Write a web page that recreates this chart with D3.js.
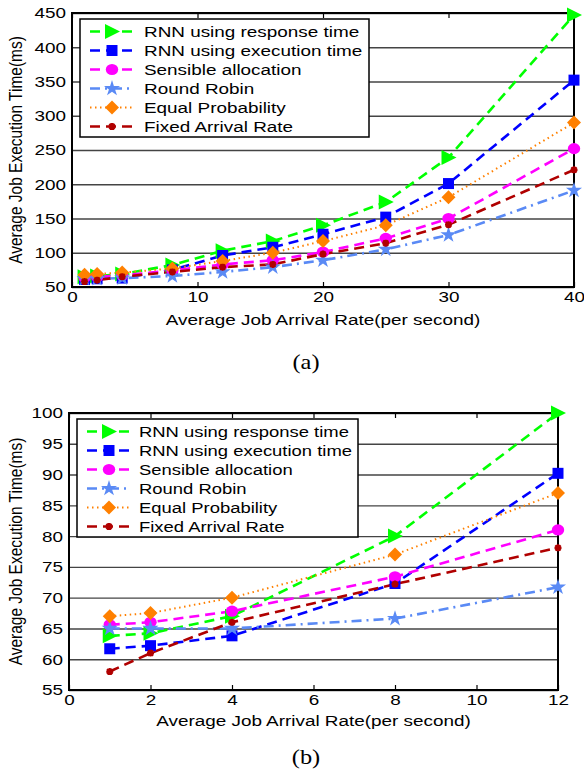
<!DOCTYPE html>
<html>
<head>
<meta charset="utf-8">
<script src="https://cdn.jsdelivr.net/npm/d3@7"></script>
<style>
  body { margin: 0; background: #fff; }
  svg { display: block; }
  text { font-family: "Liberation Sans", Arial, Helvetica, sans-serif; fill: #000; }
</style>
</head>
<body>
<div id="chart"></div>
<script>
// series labels, same order in both panels
const seriesNames = [
  "RNN using response time",
  "RNN using execution time",
  "Sensible allocation",
  "Round Robin",
  "Equal Probability",
  "Fixed Arrival Rate"
];

// panel (a)
const rateA = [1, 2, 4, 8, 12, 16, 20, 25, 30, 40];
const responseA = [65, 66, 69, 82, 103, 117, 140, 174, 239, 447];
const executionA = [61, 62, 63, 75, 96, 108, 127, 152, 201, 352];
const sensibleA = [64, 65, 67, 74, 83, 89, 101, 121, 150, 252];
const roundRobinA = [62, 62, 63, 66, 72, 79, 89, 105, 126, 191];
const equalProbA = [68, 69, 71, 77, 88, 100, 117, 140, 181, 290];
const fixedRateA = [58, 60, 65, 72, 79, 83, 98, 114, 141, 221];
const xTicksA = [0, 10, 20, 30, 40];
const yTicksA = [50, 100, 150, 200, 250, 300, 350, 400, 450];

// panel (b)
const rateB = [1, 2, 4, 8, 12];
const responseB = [63.8, 64.2, 67, 80, 100];
const executionB = [61.7, 62.2, 63.8, 72.3, 90.2];
const sensibleB = [65.6, 66, 67.8, 73.4, 81];
const roundRobinB = [65, 65, 65, 66.6, 71.7];
const equalProbB = [67, 67.5, 70, 77, 87];
const fixedRateB = [58, 61, 66, 72.2, 78.1];
const xTicksB = [0, 2, 4, 6, 8, 10, 12];
const yTicksB = [55, 60, 65, 70, 75, 80, 85, 90, 95, 100];

const xLabel = "Average Job Arrival Rate(per second)";
const yLabel = "Average Job Execution Time(ms)";

// the original figure is stretched sideways, so is the text
const STRETCH = 1.22;

const styles = [
  { color: "#00ff00", dash: "10,6", marker: "triangle" },
  { color: "#0000ff", dash: "10,6", marker: "square" },
  { color: "#ff00ff", dash: "10,6", marker: "circle" },
  { color: "#5a8af5", dash: "10,5,2,5", marker: "star" },
  { color: "#ff8000", dash: "1.5,3.5", marker: "diamond", width: 2 },
  { color: "#b00000", dash: "10,6", marker: "asterisk" }
];

const svg = d3.select("#chart").append("svg").attr("width", 584).attr("height", 770);

function addMarker(g, type, color) {
  if (type === "triangle") {
    g.append("path").attr("d", "M-7,-7.5L8,0L-7,7.5Z").attr("fill", color);
  } else if (type === "square") {
    g.append("path").attr("d", "M-5.5,-5.5h11v11h-11Z").attr("fill", color);
  } else if (type === "circle") {
    g.append("ellipse").attr("rx", 6.2).attr("ry", 5.6).attr("fill", color);
  } else if (type === "diamond") {
    g.append("path").attr("d", "M0,-7L7,0L0,7L-7,0Z").attr("fill", color);
  } else if (type === "star") {
    g.append("path").attr("d", d3.symbol(d3.symbolStar, 80)()).attr("fill", color);
  } else if (type === "asterisk") {
    g.append("path")
      .attr("d", "M-3.5,0H3.5M0,-3.5V3.5M-2.6,-2.6L2.6,2.6M-2.6,2.6L2.6,-2.6")
      .attr("stroke", color).attr("stroke-width", 2.2);
  }
}

function drawPanel(p) {
  const x = d3.scaleLinear().domain(p.xDomain).range([p.left, p.right]);
  const y = d3.scaleLinear().domain(p.yDomain).range([p.bottom, p.top]);
  const w = p.right - p.left;
  const h = p.bottom - p.top;

  // grid + y labels
  const yAxis = svg.append("g")
    .attr("transform", `translate(${p.left},0)`)
    .call(d3.axisLeft(y).tickValues(p.yTicks).tickSize(-w).tickPadding(5).tickFormat(d3.format("d")));
  yAxis.select(".domain").remove();
  yAxis.selectAll("line").attr("stroke", "#444").attr("stroke-width", 1.4);
  yAxis.selectAll("text").attr("font-size", 15.5).attr("transform", `scale(${STRETCH},1)`);

  const xAxis = svg.append("g")
    .attr("transform", `translate(0,${p.bottom})`)
    .call(d3.axisBottom(x).tickValues(p.xTicks).tickSizeInner(-5).tickSizeOuter(0).tickPadding(4));
  xAxis.select(".domain").remove();
  xAxis.selectAll("line").attr("stroke", "#000").attr("stroke-width", 1.2);
  xAxis.selectAll("text").attr("font-size", 15.5).attr("transform", `scale(${STRETCH},1)`);

  const xTop = svg.append("g")
    .attr("transform", `translate(0,${p.top})`)
    .call(d3.axisTop(x).tickValues(p.xTicks).tickSizeInner(-5).tickSizeOuter(0).tickFormat(""));
  xTop.select(".domain").remove();
  xTop.selectAll("line").attr("stroke", "#000").attr("stroke-width", 1.2);

  svg.append("rect")
    .attr("x", p.left).attr("y", p.top).attr("width", w).attr("height", h)
    .attr("fill", "none").attr("stroke", "#000").attr("stroke-width", 2);

  const line = d3.line().x(d => x(d[0])).y(d => y(d[1]));

  p.series.forEach((vals, i) => {
    const s = styles[i];
    const pts = p.rates.map((r, j) => [r, vals[j]]);
    svg.append("path")
      .attr("d", line(pts))
      .attr("fill", "none")
      .attr("stroke", s.color)
      .attr("stroke-width", s.width || 2.6)
      .attr("stroke-dasharray", s.dash);
  });
  p.series.forEach((vals, i) => {
    const s = styles[i];
    p.rates.forEach((r, j) => {
      const g = svg.append("g").attr("transform", `translate(${x(r)},${y(vals[j])})`);
      addMarker(g, s.marker, s.color);
    });
  });

  // legend
  const lg = p.legend;
  svg.append("rect")
    .attr("x", lg.x).attr("y", lg.y).attr("width", lg.w).attr("height", lg.h)
    .attr("fill", "#fff").attr("stroke", "#000").attr("stroke-width", 1.5);
  seriesNames.forEach((name, i) => {
    const s = styles[i];
    const cy = lg.y + 12.5 + i * 19;
    svg.append("line")
      .attr("x1", lg.x + 10).attr("x2", lg.x + 52).attr("y1", cy).attr("y2", cy)
      .attr("stroke", s.color).attr("stroke-width", s.width || 2.6)
      .attr("stroke-dasharray", s.dash);
    addMarker(svg.append("g").attr("transform", `translate(${lg.x + 32},${cy})`), s.marker, s.color);
    svg.append("text")
      .attr("transform", `translate(${lg.x + lg.textAt},${cy + 5.5}) scale(${lg.stretch},1)`)
      .attr("font-size", 15.5)
      .text(name);
  });

  // axis titles
  svg.append("text")
    .attr("transform", `translate(${(p.left + p.right) / 2},${p.bottom + p.labelGap}) scale(${STRETCH},1)`)
    .attr("text-anchor", "middle").attr("font-size", 15.5)
    .text(xLabel);
  svg.append("text")
    .attr("transform", `translate(22,${(p.top + p.bottom) / 2}) scale(${STRETCH},1) rotate(-90)`)
    .attr("text-anchor", "middle").attr("font-size", 15.5)
    .text(yLabel);
  svg.append("text")
    .attr("transform", `translate(306,${p.bottom + p.captionGap}) scale(${STRETCH},1)`)
    .attr("text-anchor", "middle").attr("font-size", 20)
    .style("font-family", "'Liberation Serif', 'Times New Roman', serif")
    .text(p.caption);
}

drawPanel({
  left: 72, right: 574, top: 13, bottom: 287,
  xDomain: [0, 40], yDomain: [50, 450],
  xTicks: xTicksA, yTicks: yTicksA,
  rates: rateA,
  series: [responseA, executionA, sensibleA, roundRobinA, equalProbA, fixedRateA],
  legend: { x: 80, y: 19, w: 289, h: 118, textAt: 64, stretch: STRETCH },
  labelGap: 38, captionGap: 82,
  caption: "(a)"
});

drawPanel({
  left: 69, right: 558, top: 413, bottom: 690,
  xDomain: [0, 12], yDomain: [55, 100],
  xTicks: xTicksB, yTicks: yTicksB,
  rates: rateB,
  series: [responseB, executionB, sensibleB, roundRobinB, equalProbB, fixedRateB],
  legend: { x: 77, y: 419, w: 281, h: 118, textAt: 62, stretch: 1.19 },
  labelGap: 36, captionGap: 74,
  caption: "(b)"
});
</script>
</body>
</html>
